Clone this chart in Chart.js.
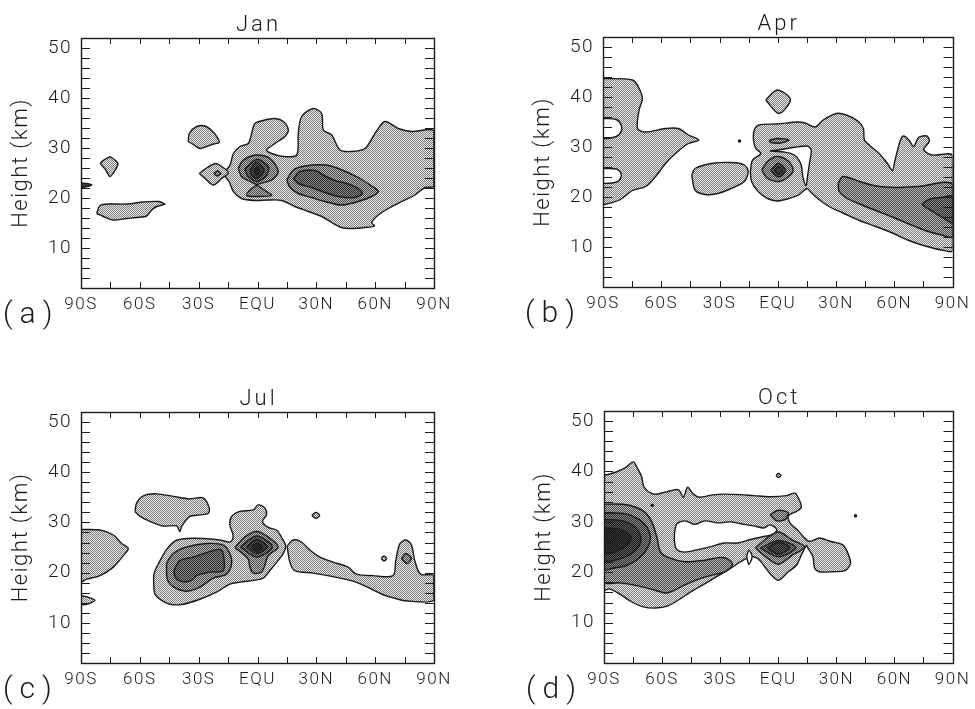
<!DOCTYPE html>
<html>
<head>
<meta charset="utf-8">
<script src="https://cdn.jsdelivr.net/npm/chart.js@4/dist/chart.umd.min.js"></script>
<style>
  body { margin: 0; background: #fff; overflow: hidden; }
  canvas { position: absolute; }
</style>
</head>
<body>
<canvas id="pa" width="487" height="354" style="left:0;top:0"></canvas>
<canvas id="pb" width="488" height="354" style="left:487px;top:0"></canvas>
<canvas id="pc" width="487" height="355" style="left:0;top:354px"></canvas>
<canvas id="pd" width="488" height="355" style="left:487px;top:354px"></canvas>
<script>
// axes
const latTicks = [-90, -75, -60, -45, -30, -15, 0, 15, 30, 45, 60, 75, 90];
const latLabelValues = [-90, -60, -30, 0, 30, 60, 90];
const latLabels = ["90S", "60S", "30S", "EQU", "30N", "60N", "90N"];
const heightLabelValues = [10, 20, 30, 40, 50];
const heightTicks = [4, 6, 8, 10, 12, 14, 16, 18, 20, 22, 24, 26, 28, 30, 32, 34, 36, 38, 40, 42, 44, 46, 48, 50];

// contour outlines, [latitude, height km]
// Jan
const janMain = [[-16.6,25.3],[-14.0,26.6],[-12.3,28.9],[-8.9,30.3],[-4.7,30.9],[-3.0,32.9],[-1.3,34.9],[3.8,35.6],[8.9,35.9],[13.2,35.3],[15.7,33.6],[14.0,32.3],[8.9,30.9],[4.7,29.6],[7.2,28.9],[13.2,28.3],[20.0,28.6],[20.8,32.9],[22.5,36.3],[28.5,37.9],[32.7,36.9],[33.6,33.6],[37.8,32.6],[42.1,29.6],[48.0,29.3],[54.8,29.9],[59.9,32.9],[65.0,35.3],[71.8,33.9],[78.6,33.3],[90,33.3],[90,22.4],[85.4,22.1],[80.3,20.6],[73.5,19.3],[66.7,17.9],[61.6,16.6],[58.2,15.1],[59.6,14.4],[54.8,14.1],[48.0,13.9],[42.9,14.1],[37.8,15.1],[32.7,16.3],[25.9,17.3],[19.1,18.3],[12.3,19.5],[5.5,19.6],[-1.3,19.5],[-8.1,19.9],[-12.3,21.3],[-14.5,23.3],[-16.6,24.4]];
const janBlob75S = [[-75.2,28.3],[-71.2,27.0],[-72.5,25.6],[-75.2,24.3],[-77.5,25.7],[-80.0,27.0]];
const janBand18 = [[-82,16.9],[-80.3,18.5],[-75.2,18.8],[-66.7,18.8],[-58.2,19.2],[-50.6,19.3],[-47.2,18.8],[-51.4,18.3],[-54,17.6],[-56.5,16.4],[-61.6,16.1],[-66.7,15.9],[-73.5,15.6],[-78.6,16.3]];
const janBlob30S = [[-35.3,31.3],[-34.8,32.9],[-31,34.3],[-26.8,34.4],[-23.4,33.5],[-20.8,32.3],[-19.5,31.1],[-22.5,30.8],[-25.9,30.3],[-29.3,29.9],[-31.9,30.5]];
const janDiamond20S = [[-29.7,24.9],[-25.6,26.1],[-21.2,26.9],[-18.3,26.3],[-14.9,25.1],[-18.3,23.9],[-22.5,22.6],[-25.9,23.6]];
const janDot20S = [[-22.3,24.9],[-20.5,25.4],[-18.7,24.9],[-20.5,24.4]];
const janDark90S = [[-90,23.0],[-87,22.9],[-84.5,22.6],[-87,22.3],[-90,22.2]];
const janEqu2 = [[-9.8,25.9],[-7.2,27.6],[-0.4,28.6],[6.4,27.9],[10.6,25.3],[7.2,23.6],[1.3,22.9],[-0.4,22.7],[-3.8,23.3],[-8.1,24.3]];
const janEqu2b = [[-0.4,22.6],[3.8,21.5],[7.2,20.5],[-0.4,20.3],[-5.5,20.5],[-3.8,21.6]];
const janEqu3 = [[-6.4,25.8],[-0.4,27.7],[5.5,26.3],[4.7,24.6],[-0.1,23.3],[-5.0,24.4]];
const janEqu4 = [[-3.8,25.6],[-0.4,27.1],[3.3,25.7],[2.1,24.6],[-0.4,23.9],[-3.0,24.6]];
const janEqu5 = [[-1.8,25.4],[-0.4,26.2],[1.2,25.4],[-0.4,24.6]];
const jan30N2 = [[14.9,23.6],[18.3,25.6],[24.2,26.4],[34.4,26.6],[41.2,25.9],[51.4,24.1],[58.2,22.4],[61.6,21.3],[58.2,20.3],[51.4,19.3],[42.9,18.6],[34.4,19.3],[27.6,20.1],[20.8,20.9],[16.6,22.1]];
const jan30N3 = [[18.3,23.9],[21.7,25.3],[29.3,25.5],[34.4,24.4],[39.5,23.5],[45.5,22.9],[51.4,21.9],[53.5,20.9],[49.7,20.1],[41.2,20.3],[34.4,21.1],[27.6,22.1],[20.8,22.9]];

// Apr
const aprSouth = [[-90,43.7],[-74.8,43.4],[-71.4,41.7],[-69.7,39.7],[-71.4,37.4],[-72.2,33.7],[-68,33.0],[-57.8,33.7],[-51.1,33.7],[-46,32.4],[-40.6,31.4],[-46,30.7],[-52.7,28.7],[-57.8,26.7],[-62.9,24.1],[-68,22.1],[-74.8,21.3],[-81.5,19.4],[-88.3,18.6],[-90,18.6]];
const aprNotch1 = [[-90,35.7],[-83.2,35.5],[-80.7,34.4],[-80.7,33.1],[-83.2,32.1],[-90,31.9]];
const aprNotch2 = [[-90,25.7],[-83.2,25.6],[-80.7,24.7],[-81.5,23.4],[-84,22.9],[-90,22.9]];
const aprDiamond = [[-6.2,39.4],[-0.3,41.4],[6.5,39.5],[0.6,36.7]];
const aprOval = [[-44.3,24.4],[-42.6,25.7],[-34.1,26.7],[-24,26.9],[-17.2,26.4],[-15.2,25.1],[-17.2,23.1],[-24,21.7],[-30.9,20.7],[-37.5,20.5],[-42.6,21.4]];
const aprMain = [[-14.1,25.1],[-13.0,27.4],[-8.7,28.7],[-11.3,29.7],[-12.5,31.4],[-12.1,33.4],[-9.6,34.4],[-0.3,34.6],[9.9,35.0],[14.1,34.8],[19.2,34.0],[23.4,35.4],[30.2,36.7],[35.3,36.4],[41.2,35.2],[44.1,33.7],[44.6,31.4],[47.1,30.4],[52.2,28.7],[56.5,26.7],[59.0,25.3],[60.4,27.4],[63.2,31.4],[64.9,32.2],[67.5,31.4],[70.0,30.1],[72.5,31.9],[76.8,32.2],[78.0,31.1],[75.1,29.5],[79.3,28.4],[90,28.2],[90,9.3],[84.4,9.4],[75.9,10.2],[67.5,11.3],[59.0,12.8],[50.5,14.1],[42.1,15.3],[33.6,16.8],[26.8,18.0],[20.9,19.6],[16.7,21.1],[15.0,21.7],[10.7,20.4],[4.8,19.6],[-0.3,19.2],[-5.3,19.7],[-10.1,21.1],[-13.5,23.1]];
const aprHole = [[-4,29.2],[4.8,29.7],[15.0,30.2],[17.2,29.4],[16.3,26.7],[15.3,24.1],[14.6,22.3],[12.9,24.1],[12.0,26.5],[8.5,28.4],[3.0,29.0]];
const aprLens = [[-4.5,31.3],[-0.3,31.7],[5.7,31.4],[1.4,30.8],[-3.6,30.9]];
const aprEqu2 = [[-8.2,25.4],[-5.3,27.1],[-0.3,28.1],[5.7,27.1],[7.9,25.4],[5.7,24.1],[0.6,23.1],[-5.3,23.7]];
const aprEqu3 = [[-3.6,25.3],[0.3,26.7],[4.0,25.4],[0.6,24.0]];
const aprEqu4 = [[-1.9,25.3],[0.3,26.1],[2.7,25.3],[0.3,24.5]];
const aprBand2 = [[31.1,22.7],[33.6,24.1],[42.1,23.1],[50.5,22.2],[60.7,21.9],[72.5,22.1],[90,22.5],[90,12.1],[84.4,12.4],[75.9,13.3],[67.5,14.6],[59.0,16.0],[50.5,17.3],[42.1,18.6],[35.3,19.8],[31.6,21.1]];
const aprBand3 = [[74.2,18.6],[78.4,19.6],[84.4,19.9],[90,20.1],[90,14.9],[85.3,15.8],[81.0,16.8],[76.8,17.8]];
const aprDot = [[-19.7,31.2]];

// Jul
const julSouth = [[-90,28.6],[-80.3,28.5],[-73.5,27.5],[-69.3,25.8],[-65.9,24.8],[-68.4,23.4],[-73.5,21.1],[-80.3,19.4],[-87.1,18.7],[-90,18.3]];
const julSouth14 = [[-90,15.4],[-87.1,15.2],[-82.9,14.5],[-86.3,13.8],[-90,13.7]];
const julUpper = [[-62.5,32.2],[-61.6,33.9],[-58.2,35.3],[-51.5,35.7],[-43.0,35.2],[-34.5,34.7],[-27.7,34.9],[-24.6,32.9],[-25.1,31.8],[-29.4,31.5],[-34.5,31.2],[-38.7,29.2],[-39.6,28.2],[-41.3,29.3],[-48.1,29.3],[-54.8,30.2],[-59.9,31.2]];
const julMain = [[-52.8,16.7],[-52.8,19.7],[-50.1,22.1],[-46.4,24.6],[-42.1,26.3],[-36.2,26.8],[-27.7,26.8],[-19.2,26.5],[-13.8,26.1],[-12.4,27.3],[-14.1,29.5],[-13.2,31.2],[-9.0,32.2],[-2.2,32.5],[0.3,33.5],[3.7,32.9],[4.6,31.5],[2.5,30.2],[5.4,29.0],[9.7,28.5],[12.2,27.1],[14.4,25.3],[13.1,23.8],[10.5,22.4],[6.3,20.4],[2.9,18.9],[-1.4,18.5],[-9.0,18.1],[-14.1,17.7],[-20.9,16.1],[-29.4,14.7],[-37.9,13.7],[-44.7,13.7],[-49.8,14.7],[-52.3,15.7]];
const julLeft2 = [[-46.4,21.9],[-43.0,23.8],[-36.2,25.1],[-26.0,25.8],[-17.5,25.5],[-14.1,23.8],[-13.2,21.8],[-15.8,19.7],[-22.6,18.9],[-29.4,17.1],[-36.2,16.3],[-43.0,17.2],[-46.0,18.7]];
const julLeft3 = [[-42.6,20.4],[-39.6,22.4],[-32.8,23.1],[-25.1,24.1],[-18.8,24.6],[-17.2,23.1],[-17.5,20.4],[-24.3,20.1],[-31.1,19.4],[-34.5,18.3],[-39.6,18.3],[-42.1,19.2]];
const julEqu2 = [[-11.5,25.0],[-6.5,27.1],[-0.5,28.2],[5.4,27.1],[10.5,25.1],[5.4,23.4],[3.7,21.4],[2.0,20.1],[-2.2,19.9],[-3.9,21.1],[-4.8,22.8]];
const julEqu3 = [[-8.7,25.1],[-0.5,27.3],[7.6,25.1],[-0.5,23.1]];
const julEqu4 = [[-5.6,25.1],[-0.5,26.6],[4.9,25.1],[-0.5,23.8]];
const julEqu5 = [[-3.0,25.1],[-0.5,25.9],[2.6,25.1],[-0.5,24.3]];
const julBand = [[15.1,25.3],[18.2,26.5],[22.4,26.1],[26.7,24.5],[31.8,23.1],[38.5,22.1],[46.2,21.1],[50.4,19.7],[58.9,19.4],[69.1,19.4],[70.5,22.4],[72.5,25.7],[75.6,26.5],[78.5,25.5],[80.2,22.4],[83.1,19.7],[90,19.4],[90,14.5],[75.1,14.4],[70.0,14.9],[64.0,15.6],[55.5,17.2],[48.7,18.3],[38.5,19.2],[28.4,19.9],[19.0,20.4],[16.5,22.1]];
const julBand2 = [[73.4,22.8],[75.6,23.8],[78.5,22.9],[76.3,21.8]];
const julRing30N = [[27.7,31.4],[29.7,32.0],[31.7,31.4],[29.7,30.8]];
const julRing60N = [[63.0,22.8],[64.4,23.3],[65.8,22.8],[64.4,22.3]];

// Oct
const octMain = [[-90,39.2],[-83.7,39.9],[-78.7,40.8],[-74.9,41.9],[-72.7,40.6],[-70.5,38.9],[-69.3,36.9],[-64.3,35.5],[-58.3,35.9],[-51.6,36.4],[-49.0,34.9],[-46.8,36.9],[-43.9,35.5],[-40.6,34.9],[-34.6,35.3],[-27.9,35.5],[-19.4,35.4],[-12.6,35.2],[-4.2,35.0],[4.3,35.2],[8.5,35.7],[10.7,34.5],[11.9,32.9],[9.4,32.1],[5.2,31.2],[6.0,29.8],[10.2,28.3],[13.6,26.8],[16.2,26.1],[21.2,26.8],[27.2,26.1],[33.1,25.5],[35.6,24.1],[37.3,21.8],[34.8,20.4],[28.0,20.1],[21.2,20.1],[18.7,20.9],[17.9,23.1],[15.3,24.8],[14.5,25.3],[11.9,23.4],[9.4,21.4],[5.2,20.1],[0.1,18.4],[-4.2,19.7],[-7.5,21.4],[-10.9,22.8],[-14.3,23.1],[-19.4,22.1],[-24.5,20.8],[-31.2,19.3],[-38.0,17.7],[-44.8,16.2],[-50.7,14.7],[-56.6,13.4],[-63.4,12.9],[-70.2,13.2],[-76.1,14.2],[-82.0,15.7],[-87.1,16.7],[-90,16.5]];
const octHole = [[-53.6,27.8],[-52.4,29.6],[-48.2,30.2],[-43.1,29.5],[-38.0,30.2],[-31.2,29.8],[-24.5,30.0],[-17.7,29.5],[-12.6,29.2],[-7.5,28.8],[-4.2,29.4],[-0.8,28.5],[-2.5,27.5],[-7.5,27.1],[-14.3,26.5],[-21.1,25.8],[-27.9,25.8],[-34.6,25.1],[-41.4,24.5],[-48.2,24.0],[-52.4,24.5],[-53.6,26.1]];
const octLens = [[-16.3,23.1],[-15.2,24.4],[-13.5,23.1],[-15.2,21.6]];
const octMid = [[-4.2,31.4],[0.1,32.3],[5.2,31.8],[3.5,30.5],[-0.8,30.2]];
const octLeft2 = [[-90,33.5],[-80.3,33.5],[-73.6,32.9],[-68.5,31.8],[-65.1,29.8],[-62.6,26.8],[-60.9,24.1],[-56.6,22.9],[-48.2,22.1],[-38.0,22.4],[-31.2,22.9],[-27.0,22.8],[-23.6,21.6],[-27.0,20.2],[-34.6,19.4],[-41.4,18.6],[-48.2,17.5],[-54.9,16.2],[-58.3,15.9],[-65.1,16.6],[-73.6,17.4],[-82.0,17.9],[-90,18.1]];
const octLeft3 = [[-90,31.8],[-78.7,31.6],[-71.9,30.5],[-67.6,28.8],[-66.0,26.8],[-67.6,24.8],[-71.9,22.8],[-78.7,21.3],[-85.4,20.8],[-90,20.6]];
const octLeft4 = [[-90,30.5],[-80.3,30.2],[-73.6,28.8],[-71.0,26.8],[-72.7,24.8],[-78.7,23.1],[-90,22.4]];
const octLeft5 = [[-90,28.8],[-82.0,28.5],[-76.1,27.1],[-77.8,25.5],[-84.0,24.1],[-90,23.8]];
const octEqu2 = [[-11.8,24.8],[-5.8,26.8],[0.1,28.0],[6.9,26.5],[13.6,25.0],[6.9,23.3],[0.1,21.6],[-6.6,23.1]];
const octEqu3 = [[-9.2,24.8],[0.1,26.3],[9.1,24.9],[0.1,23.1]];
const octEqu4 = [[-5.8,24.8],[0.1,25.9],[6.0,24.9],[0.1,23.6]];
const octRing = [[-1.2,39.2],[0.1,39.6],[1.4,39.2],[0.1,38.8]];
const octDots = [[39.9,31.2],[-65.1,33.3]];

// stipple fills like the printed shading
function stipple(dark, light) {
  const c = document.createElement("canvas");
  c.width = 2; c.height = 2;
  const g = c.getContext("2d");
  g.fillStyle = light; g.fillRect(0, 0, 2, 2);
  g.fillStyle = dark; g.fillRect(0, 0, 1, 1); g.fillRect(1, 1, 1, 1);
  return g.createPattern(c, "repeat");
}
const fills = [
  "#ffffff",
  stipple("#7a7a7a", "#eeeeee"),
  stipple("#444444", "#bdbdbd"),
  stipple("#2a2a2a", "#8a8a8a"),
  stipple("#1a1a1a", "#5c5c5c"),
  stipple("#111111", "#3a3a3a"),
];

// shapes in painting order (bottom first)
const panels = [
  { id: "pa", title: "Jan", letter: "(a)", plot: [81, 434, 38, 288],
    shapes: [[janMain,1],[janBlob75S,1],[janBand18,1],[janBlob30S,1],[janDiamond20S,1],[janDot20S,2],
             [janEqu2,2],[janEqu2b,2],[jan30N2,2],[janEqu3,3],[jan30N3,3],[janEqu4,4],[janDark90S,4],[janEqu5,5]] },
  { id: "pb", title: "Apr", letter: "(b)", plot: [116, 471, 37, 287],
    shapes: [[aprSouth,1],[aprDiamond,1],[aprOval,1],[aprMain,1],[aprNotch1,0],[aprNotch2,0],[aprHole,0],
             [aprLens,2],[aprEqu2,2],[aprBand2,2],[aprEqu3,3],[aprBand3,3],[aprEqu4,4]], dots: aprDot },
  { id: "pc", title: "Jul", letter: "(c)", plot: [81, 434, 58, 309],
    shapes: [[julSouth,1],[julSouth14,1],[julUpper,1],[julMain,1],[julBand,1],[julRing30N,1],[julRing60N,1],
             [julLeft2,2],[julEqu2,2],[julBand2,2],[julLeft3,3],[julEqu3,3],[julEqu4,4],[julEqu5,5]] },
  { id: "pd", title: "Oct", letter: "(d)", plot: [117, 472, 57, 309],
    shapes: [[octMain,1],[octRing,1],[octHole,0],[octLens,0],[octMid,2],[octLeft2,2],[octEqu2,2],
             [octLeft3,3],[octEqu3,3],[octLeft4,4],[octEqu4,4],[octLeft5,5]], dots: octDots },
];

const FONT = "Roboto";
const INK = "#1a1a1a";

const framePlugin = {
  id: "frame",
  beforeDraw(chart) {
    // the printed lettering is wide, open it up a bit
    chart.ctx.letterSpacing = "1.5px";
  },
  afterDatasetsDraw(chart, args, opts) {
    const { ctx, chartArea: a, scales: { x, y } } = chart;
    ctx.save();
    ctx.strokeStyle = INK;
    ctx.lineWidth = 1;
    ctx.beginPath();
    latTicks.forEach(v => {
      const px = Math.round(x.getPixelForValue(v)) + 0.5;
      ctx.moveTo(px, a.bottom); ctx.lineTo(px, a.bottom - 6);
      ctx.moveTo(px, a.top); ctx.lineTo(px, a.top + 6);
    });
    heightTicks.forEach(v => {
      const py = Math.round(y.getPixelForValue(v)) + 0.5;
      ctx.moveTo(a.left, py); ctx.lineTo(a.left + 9, py);
      ctx.moveTo(a.right, py); ctx.lineTo(a.right - 9, py);
    });
    ctx.stroke();
    ctx.lineWidth = 1.4;
    ctx.strokeRect(Math.round(a.left) + 0.5, Math.round(a.top) + 0.5, Math.round(a.width), Math.round(a.height));
    // panel title
    ctx.fillStyle = INK;
    ctx.font = "300 22px " + FONT;
    ctx.letterSpacing = "3px";
    ctx.textAlign = "center";
    ctx.textBaseline = "alphabetic";
    ctx.fillText(opts.title, (a.left + a.right) / 2 + 1, a.top - 7);
    // panel letter
    ctx.font = "300 30px " + FONT;
    ctx.textAlign = "left";
    ctx.letterSpacing = "7px";
    ctx.fillText(opts.letter, a.left - 78, a.bottom + 35);
    ctx.restore();
  }
};

function shapeSet(points, level) {
  const data = points.concat([points[0]]).map(p => ({ x: p[0], y: p[1] }));
  return {
    data: data,
    fill: "shape",
    backgroundColor: fills[level],
    borderColor: INK,
    borderWidth: 1.4,
    pointRadius: 0,
    tension: 0.3,
  };
}

panels.forEach(p => {
  const canvas = document.getElementById(p.id);
  const W = canvas.width, H = canvas.height;
  const [L, R, T, B] = p.plot;
  const yW = 81, xH = 30;
  const painted = p.shapes.map(s => shapeSet(s[0], s[1]));
  if (p.dots) {
    painted.push({
      data: p.dots.map(d => ({ x: d[0], y: d[1] })),
      showLine: false, fill: false,
      pointRadius: 1.8, pointBackgroundColor: INK, pointBorderWidth: 0,
    });
  }
  // chart.js paints the last dataset first
  const datasets = painted.reverse();

  new Chart(canvas, {
    type: "line",
    data: { datasets: datasets },
    options: {
      responsive: false,
      animation: false,
      events: [],
      layout: { padding: { left: L - yW, right: W - R, top: T, bottom: H - B - xH } },
      plugins: {
        legend: { display: false },
        tooltip: { enabled: false },
        frame: { title: p.title, letter: p.letter },
      },
      scales: {
        x: {
          type: "linear", min: -90, max: 90,
          afterFit: s => { s.height = xH; },
          afterBuildTicks: s => { s.ticks = latLabelValues.map(v => ({ value: v })); },
          grid: { display: false, drawTicks: false },
          border: { display: false },
          ticks: {
            autoSkip: false, maxRotation: 0, padding: 7, color: INK,
            font: { family: FONT, size: 17, weight: "300" },
            callback: (v, i) => latLabels[i],
          },
        },
        y: {
          type: "linear", min: 2, max: 52,
          afterFit: s => { s.width = yW; },
          afterBuildTicks: s => { s.ticks = heightLabelValues.map(v => ({ value: v })); },
          grid: { display: false, drawTicks: false },
          border: { display: false },
          ticks: { padding: 9, color: INK, font: { family: FONT, size: 19, weight: "300" } },
          title: {
            display: true, text: "Height (km)", color: INK, padding: 8,
            font: { family: FONT, size: 22, weight: "300" },
          },
        },
      },
    },
    plugins: [framePlugin],
  });
});
</script>
</body>
</html>
